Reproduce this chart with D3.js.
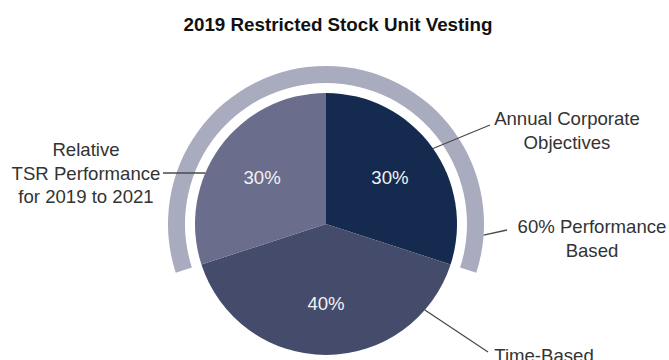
<!DOCTYPE html>
<html>
<head>
<meta charset="utf-8">
<script src="https://cdn.jsdelivr.net/npm/d3@7"></script>
<style>
  html, body { margin: 0; padding: 0; background: #fff; }
  svg { display: block; font-family: "Liberation Sans", Arial, Helvetica, sans-serif; }
</style>
</head>
<body>
<svg id="chart" width="669" height="360"></svg>
<script>
// Vesting components (percent of 2019 RSU grant), clockwise from 12 o'clock
const components = ["Annual Corporate Objectives", "Time-Based", "Relative TSR Performance"];
const shares = [30, 40, 30];
const sliceLabels = ["30%", "40%", "30%"];
const sliceColors = ["#152a4f", "#454b6b", "#6a6d8b"];

// Components grouped under the outer "Performance Based" band
const performanceGroup = ["Relative TSR Performance", "Annual Corporate Objectives"];
const performanceLabel = ["60% Performance", "Based"];

// Callout text, one array of lines per callout
const calloutText = {
  "Annual Corporate Objectives": ["Annual Corporate", "Objectives"],
  "Time-Based": ["Time-Based"],
  "Relative TSR Performance": ["Relative", "TSR Performance", "for 2019 to 2021"]
};

const title = "2019 Restricted Stock Unit Vesting";

// ---- layout ----
const svg = d3.select("#chart");
const cx = 326, cy = 224;
const radius = 131;
const bandInner = 141, bandOuter = 158;
const labelRadius = 79;
const lineHeight = 23.5;
const fontSize = 18.6;
const deg = Math.PI / 180;

svg.append("text")
  .attr("x", 338).attr("y", 31)
  .attr("text-anchor", "middle")
  .attr("font-size", 18.8).attr("font-weight", "bold")
  .attr("fill", "#111")
  .text(title);

const g = svg.append("g").attr("transform", `translate(${cx},${cy})`);

const pie = d3.pie().sort(null).value(d => d.value);
const arcs = pie(components.map((name, i) => ({ name, value: shares[i], label: sliceLabels[i], color: sliceColors[i] })));
const byName = Object.fromEntries(arcs.map(a => [a.data.name, a]));

const arc = d3.arc().innerRadius(0).outerRadius(radius);
const labelArc = d3.arc().innerRadius(labelRadius).outerRadius(labelRadius);

// Outer band spanning the performance-based components (wraps across 12 o'clock)
const tsr = byName[performanceGroup[0]];
const annual = byName[performanceGroup[1]];
const band = d3.arc().innerRadius(bandInner).outerRadius(bandOuter);
g.append("path")
  .attr("d", band({ startAngle: tsr.startAngle - 2 * Math.PI, endAngle: annual.endAngle }))
  .attr("fill", "#a9abbf");

// Slices
g.selectAll("path.slice")
  .data(arcs)
  .join("path")
  .attr("class", "slice")
  .attr("d", arc)
  .attr("fill", d => d.data.color);

// Percentage labels
g.selectAll("text.pct")
  .data(arcs)
  .join("text")
  .attr("class", "pct")
  .attr("transform", d => `translate(${labelArc.centroid(d)})`)
  .attr("text-anchor", "middle")
  .attr("dy", "0.36em")
  .attr("font-size", fontSize)
  .attr("fill", "#f2f2f4")
  .text(d => d.data.label);

// Leader lines: start on the pie (or band) edge at a given angle, end near the text
const callouts = [
  { name: "Annual Corporate Objectives", angle: 54.8, r: radius, end: [490, 125], text: [567, 125] },
  { name: "Time-Based", angle: 131, r: radius, end: [488, 352], text: [544, 362] },
  { name: "Relative TSR Performance", angle: 292.9, r: radius, end: [163, 173], text: [86, 156] },
  { name: "performance", angle: 94, r: bandOuter, end: [507, 230], text: [592, 233] }
];

const point = (angle, r) => [cx + r * Math.sin(angle * deg), cy - r * Math.cos(angle * deg)];

svg.selectAll("line.leader")
  .data(callouts)
  .join("line")
  .attr("class", "leader")
  .attr("x1", d => point(d.angle, d.r)[0])
  .attr("y1", d => point(d.angle, d.r)[1])
  .attr("x2", d => d.end[0])
  .attr("y2", d => d.end[1])
  .attr("stroke", "#4a4a4a")
  .attr("stroke-width", 1.3);

const texts = svg.selectAll("text.callout")
  .data(callouts)
  .join("text")
  .attr("class", "callout")
  .attr("x", d => d.text[0])
  .attr("y", d => d.text[1])
  .attr("text-anchor", "middle")
  .attr("font-size", fontSize)
  .attr("fill", "#333");

texts.each(function (d) {
  const lines = d.name === "performance" ? performanceLabel : calloutText[d.name];
  d3.select(this).selectAll("tspan")
    .data(lines)
    .join("tspan")
    .attr("x", d.text[0])
    .attr("dy", (l, i) => i === 0 ? 0 : lineHeight)
    .text(l => l);
});
</script>
</body>
</html>
